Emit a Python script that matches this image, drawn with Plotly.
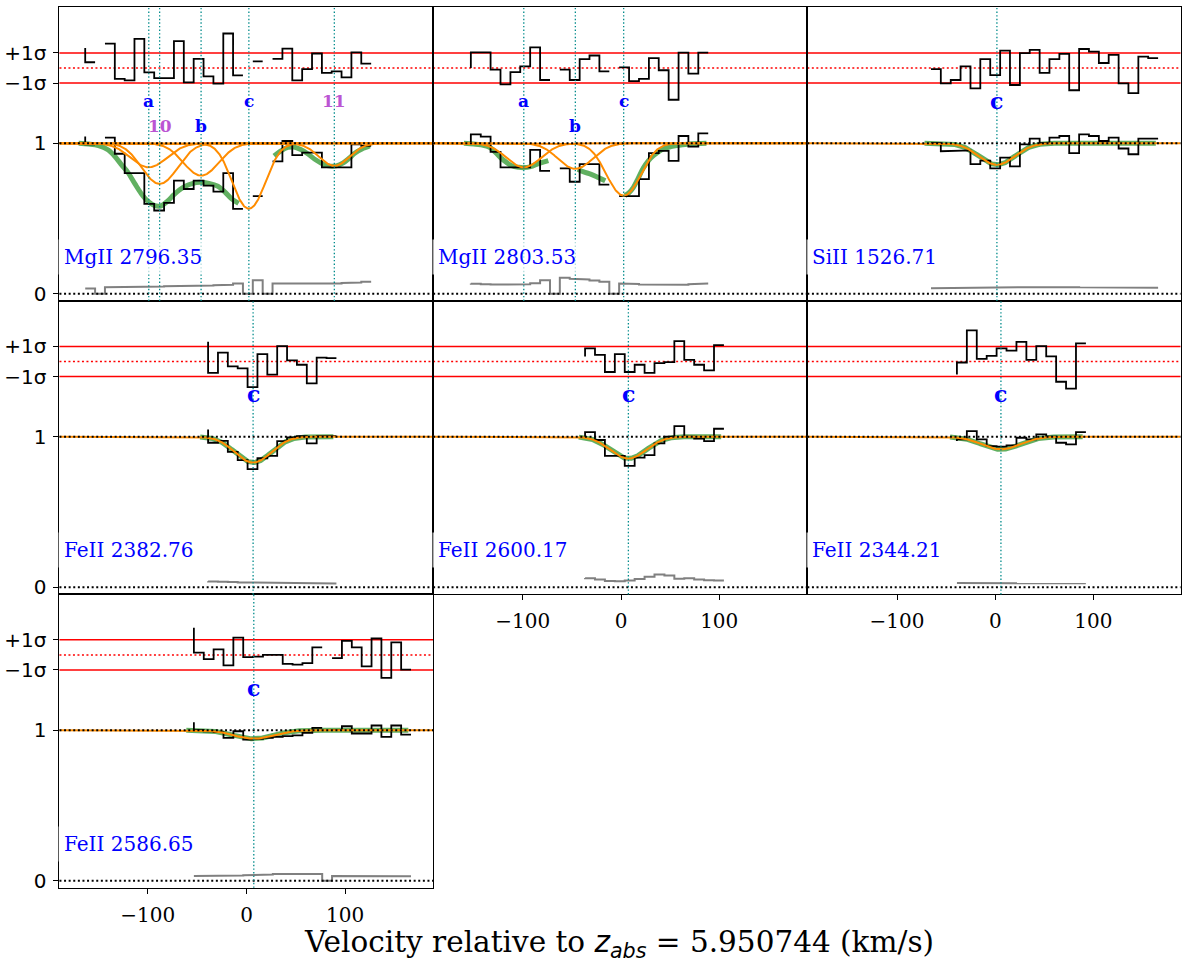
import numpy as np
import plotly.graph_objects as go

# ---------------------------------------------------------------- data
# MgII 2796.35
mg2796_vel = [-163.4, -153.4, -143.4, -133.4, -123.4, -113.5, -103.5, -93.5, -83.5, -73.5,
              -63.5, -53.5, -43.5, -33.5, -23.5, -13.6, -3.6, 6.4, 16.4, 26.4,
              36.4, 46.4, 56.4, 66.4, 76.4, 86.3, 96.3, 106.3, 116.3, 126.3]
mg2796_flux = [1.044, 0.993, None, 1.037, 0.93, 0.802, 0.802, 0.597, 0.553, 0.604,
               0.751, 0.696, 0.751, 0.718, 0.678, 0.802, 0.564, None, 0.648, None,
               0.879, 1.015, 0.921, 0.938, 0.938, 0.839, 0.839, 0.839, 0.993, 0.982]
mg2796_resid = [1.33, 0.38, None, 1.62, -0.73, -0.82, 1.93, -0.29, -0.67, -0.67,
                1.78, -0.96, 0.6, -0.56, -1.04, 2.29, -0.49, None, 0.44, None,
                0.6, 1.29, -0.82, -0.07, 0.96, -0.33, -0.22, -0.62, 1.04, 0.29]
mg2796_err = [0.035, 0.035, 0.0, 0.044, 0.045, 0.046, 0.047, 0.048, 0.049, 0.05,
              0.051, 0.052, 0.053, 0.055, 0.057, 0.06, 0.068, 0.0, 0.09, 0.0,
              0.068, 0.066, 0.064, 0.063, 0.064, 0.066, 0.068, 0.071, 0.075, 0.079]
mg2796_comp_label = ["a", "10", "b", "c", "11"]
mg2796_comp_vel = [-99.0, -88.0, -46.0, 2.4, 89.0]
mg2796_comp_b = [25.0, 24.0, 24.0, 21.0, 21.0]
mg2796_comp_fmin = [0.84, 0.73, 0.785, 0.565, 0.85]
mg2796_model_vel = [-170, -160, -150, -140, -133, -127, -120, -113, -106, -100, -93, -87, -80,
                    -74, -68, -62, -55, -47, -38, -29, -22, -15, -8, None,
                    28, 35, 42, 48, 55, 62, 70, 78, 85, 91, 98, 104, 110, 117, 125]
mg2796_model_flux = [1.0, 0.995, 0.985, 0.955, 0.91, 0.86, 0.805, 0.73, 0.66, 0.615, 0.585, 0.583, 0.615,
                     0.655, 0.69, 0.715, 0.732, 0.74, 0.733, 0.714, 0.677, 0.63, 0.60, None,
                     0.915, 0.95, 0.972, 0.975, 0.958, 0.93, 0.89, 0.86, 0.848, 0.85, 0.87, 0.90, 0.935, 0.962, 0.982]

# MgII 2803.53
mg2803_vel = [-152.9, -142.8, -132.8, -122.7, -112.6, -102.6, -92.5, -82.4, -72.3, -62.3,
              -52.2, -42.1, -32.1, -22.0, -11.9, -1.9, 8.2, 18.3, 28.4, 38.4,
              48.5, 58.6, 68.6, 78.7, 88.8]
mg2803_flux = [1.0, 1.059, 1.044, 0.943, 0.839, 0.839, 0.839, 0.956, 0.817, None,
               0.833, 0.744, 0.861, 0.861, 0.725, None, 0.648, 0.648, 0.762, 0.934,
               0.949, 0.883, 1.048, 0.978, 1.066]
mg2803_resid = [0.0, 1.04, 1.04, -0.11, -1.09, -0.28, 0.11, 1.37, -0.80, None,
                -0.11, -0.80, 0.59, 0.83, -0.22, None, 0.04, -0.87, -0.72, 0.65,
                -0.15, -2.11, 1.02, -0.37, 1.02]
mg2803_err = [0.068, 0.066, 0.063, 0.061, 0.06, 0.06, 0.063, 0.07, 0.09, 0.0,
              0.106, 0.1, 0.095, 0.088, 0.08, 0.0, 0.068, 0.065, 0.062, 0.06,
              0.058, 0.058, 0.06, 0.064, 0.068]
mg2803_comp_label = ["a", "b", "c"]
mg2803_comp_vel = [-99.0, -46.5, 2.7]
mg2803_comp_b = [24.0, 24.0, 22.5]
mg2803_comp_fmin = [0.84, 0.83, 0.652]
mg2803_model_vel = [-160, -150, -143, -133, -122, -111, -104, -99, -92, -84, -74, None,
                    -44, -38, -31, -24, -16, None,
                    4, 8, 12.5, 17, 22.7, 28, 33, 43, 57, 70, 87]
mg2803_model_flux = [1.0, 0.995, 0.99, 0.97, 0.90, 0.85, 0.84, 0.838, 0.845, 0.865, 0.885, None,
                     0.828, 0.81, 0.795, 0.775, 0.75, None,
                     0.652, 0.67, 0.705, 0.76, 0.835, 0.885, 0.918, 0.962, 0.985, 0.995, 1.0]

# SiII 1526.71
si1526_vel = [-65.4, -55.4, -45.3, -35.3, -25.2, -15.2, -5.1, 5.0, 15.0, 25.1, 35.1, 45.2,
              55.2, 65.3, 75.3, 85.4, 95.4, 105.5, 115.5, 125.6, 135.6, 145.7, 155.7, 165.8]
si1526_flux = [1.0, 1.0, 0.947, 0.952, 0.952, 0.861, 0.885, 0.833, 0.905, 0.846, 0.993, 1.031,
               1.0, 1.037, 1.048, 0.934, 1.059, 1.048, 1.015, 1.037, 0.965, 0.927, 1.031, 1.031]
si1526_resid = [-0.07, -0.07, -1.02, -0.80, 0.11, -1.35, 0.59, -0.48, 1.15, -1.13, 0.98, 1.2,
                -0.33, 0.59, 0.93, -1.48, 1.26, 1.09, 0.33, 0.87, -1.02, -1.67, 0.76, 0.65]
si1526_err = [0.036, 0.037, 0.038, 0.04, 0.041, 0.042, 0.043, 0.044, 0.044, 0.043, 0.043, 0.044,
              0.045, 0.045, 0.044, 0.044, 0.043, 0.043, 0.042, 0.042, 0.041, 0.041, 0.04, 0.04]
si1526_comp_label = ["c"]
si1526_comp_vel = [1.7]
si1526_comp_b = [25.0]
si1526_comp_fmin = [0.857]
si1526_model_span = [-72.0, 163.5]

# FeII 2382.76
fe2382_vel = [-38.9, -28.9, -18.9, -8.9, 1.1, 11.1, 21.1, 31.1, 41.1, 51.1, 61.1, 71.1, 81.1, 91.1]
fe2382_flux = [1.048, 0.96, 0.972, 0.899, 0.844, 0.784, 0.857, 0.872, 0.971, 0.995, 1.004, 0.956, 1.004, 1.004]
fe2382_resid = [1.30, -0.76, 0.59, -0.33, -0.46, -1.70, 0.48, -0.87, 1.02, 0.07, -0.22, -1.46, 0.26, 0.22]
fe2382_err = [0.04, 0.038, 0.036, 0.034, 0.032, 0.031, 0.03, 0.029, 0.028, 0.027, 0.027, 0.026, 0.025, 0.025]
fe2382_comp_label = ["c"]
fe2382_comp_vel = [6.7]
fe2382_comp_b = [25.0]
fe2382_comp_fmin = [0.828]
fe2382_model_span = [-47.0, 88.0]

# FeII 2600.17
fe2600_vel = [-36.6, -26.5, -16.4, -6.3, 3.8, 13.9, 24.0, 34.1, 44.2, 54.3, 64.4, 74.5, 84.6, 94.7, 104.8]
fe2600_flux = [1.0, 1.031, 0.978, 0.872, 0.872, 0.806, 0.861, 0.877, 0.956, 1.0, 1.07, 1.0, 0.987, 0.971, 1.053]
fe2600_resid = [0.33, 0.87, 0.43, -0.70, 0.48, -0.70, -0.22, -0.76, -0.11, -0.04, 1.35, 0.11, -0.22, -0.59, 1.09]
fe2600_err = [0.062, 0.06, 0.052, 0.042, 0.04, 0.045, 0.055, 0.07, 0.084, 0.078, 0.057, 0.06, 0.052, 0.046, 0.044]
fe2600_comp_label = ["c"]
fe2600_comp_vel = [7.5]
fe2600_comp_b = [25.0]
fe2600_comp_fmin = [0.855]
fe2600_model_span = [-43.0, 102.0]

# FeII 2344.21
fe2344_vel = [-39.0, -28.9, -18.8, -8.7, 1.4, 11.5, 21.6, 31.7, 41.8, 51.9, 62.0, 72.1, 82.2, 92.3]
fe2344_flux = [0.971, 0.982, 1.037, 0.982, 0.938, 0.934, 0.943, 0.993, 0.982, 1.015, 1.0, 0.96, 0.949, 1.031]
fe2344_resid = [-0.87, -0.07, 2.07, 0.17, 0.37, 0.87, 0.72, 1.30, 0.11, 1.02, 0.33, -1.35, -1.80, 1.20]
fe2344_err = [0.028, 0.028, 0.027, 0.027, 0.027, 0.028, 0.028, 0.028, 0.027, 0.027, 0.027, 0.026, 0.026, 0.026]
fe2344_comp_label = ["c"]
fe2344_comp_vel = [5.8]
fe2344_comp_b = [27.0]
fe2344_comp_fmin = [0.916]
fe2344_model_span = [-46.0, 89.0]

# FeII 2586.65
fe2586_vel = [-53.3, -43.3, -33.3, -23.3, -13.3, -3.3, 6.7, 16.7, 26.7, 36.7, 46.7, 56.7,
              66.7, 76.7, 86.7, 96.7, 106.7, 116.7, 126.7, 136.7, 146.7, 156.7, 166.7]
fe2586_flux = [1.053, 1.0, 0.993, 0.987, 0.949, 0.993, 0.938, 0.943, 0.949, 0.956, 0.96, 0.965,
               0.982, 1.015, None, 1.0, 1.026, 0.978, 0.978, 1.031, 0.956, 1.031, 0.971]
fe2586_resid = [1.80, 0.15, -0.28, 0.37, -0.70, 1.15, -0.15, -0.11, 0.0, 0.0, -0.59, -0.65,
                -0.54, 0.5, None, -0.22, 0.93, 0.5, -0.76, 1.09, -1.52, 0.83, -0.98]
fe2586_err = [0.031, 0.031, 0.032, 0.033, 0.034, 0.035, 0.037, 0.039, 0.041, 0.044, 0.046, 0.046,
              0.045, 0.044, 0.0, 0.032, 0.031, 0.031, 0.03, 0.031, 0.032, 0.031, 0.03]
fe2586_comp_label = ["c"]
fe2586_comp_vel = [7.4]
fe2586_comp_b = [28.0]
fe2586_comp_fmin = [0.943]
fe2586_model_span = [-61.0, 164.0]

z_abs = "5.950744"

# ---------------------------------------------------------------- layout / style
W, H = 1182, 964
COL_PX = [(59.5, 433.5), (433.5, 808.0), (808.0, 1181.5)]
ROW_PX = [(7.5, 302.5), (302.5, 597.5), (597.5, 892.5)]
X_RANGE = [(-189.5, 189.1), (-191.3, 189.7), (-191.3, 188.6)]
Y_RANGE = (-0.0476, 1.902)
RES_ZERO, RES_SCALE = 1.5, 0.1

BLUE = "#0000ff"
PURPLE = "#bb55d3"
ORANGE = "#ff8c00"
GREEN = "rgba(0,128,0,0.62)"
TEAL = "rgb(0,139,139)"

panels = [
    dict(name="MgII 2796.35", row=0, col=0, vel=mg2796_vel, flux=mg2796_flux, resid=mg2796_resid,
         err=mg2796_err, lab=mg2796_comp_label, cv=mg2796_comp_vel, cb=mg2796_comp_b,
         cf=mg2796_comp_fmin, mv=mg2796_model_vel, mf=mg2796_model_flux,
         lab_level=[0, 1, 1, 0, 0], lab_size=17),
    dict(name="MgII 2803.53", row=0, col=1, vel=mg2803_vel, flux=mg2803_flux, resid=mg2803_resid,
         err=mg2803_err, lab=mg2803_comp_label, cv=mg2803_comp_vel, cb=mg2803_comp_b,
         cf=mg2803_comp_fmin, mv=mg2803_model_vel, mf=mg2803_model_flux,
         lab_level=[0, 1, 0], lab_size=17),
    dict(name="SiII 1526.71", row=0, col=2, vel=si1526_vel, flux=si1526_flux, resid=si1526_resid,
         err=si1526_err, lab=si1526_comp_label, cv=si1526_comp_vel, cb=si1526_comp_b,
         cf=si1526_comp_fmin, span=si1526_model_span, lab_level=[0], lab_size=22),
    dict(name="FeII 2382.76", row=1, col=0, vel=fe2382_vel, flux=fe2382_flux, resid=fe2382_resid,
         err=fe2382_err, lab=fe2382_comp_label, cv=fe2382_comp_vel, cb=fe2382_comp_b,
         cf=fe2382_comp_fmin, span=fe2382_model_span, lab_level=[0], lab_size=22),
    dict(name="FeII 2600.17", row=1, col=1, vel=fe2600_vel, flux=fe2600_flux, resid=fe2600_resid,
         err=fe2600_err, lab=fe2600_comp_label, cv=fe2600_comp_vel, cb=fe2600_comp_b,
         cf=fe2600_comp_fmin, span=fe2600_model_span, lab_level=[0], lab_size=22),
    dict(name="FeII 2344.21", row=1, col=2, vel=fe2344_vel, flux=fe2344_flux, resid=fe2344_resid,
         err=fe2344_err, lab=fe2344_comp_label, cv=fe2344_comp_vel, cb=fe2344_comp_b,
         cf=fe2344_comp_fmin, span=fe2344_model_span, lab_level=[0], lab_size=22),
    dict(name="FeII 2586.65", row=2, col=0, vel=fe2586_vel, flux=fe2586_flux, resid=fe2586_resid,
         err=fe2586_err, lab=fe2586_comp_label, cv=fe2586_comp_vel, cb=fe2586_comp_b,
         cf=fe2586_comp_fmin, span=fe2586_model_span, lab_level=[0], lab_size=22),
]
occupied = {(p["row"], p["col"]) for p in panels}
LAB_Y = [1.282, 1.115]


def steps_pre(x, y):
    """matplotlib drawstyle='steps-pre' path, NaN (None) breaks the line."""
    xs, ys = [], []
    for i in range(len(x)):
        pts = [(x[0], y[0])] if i == 0 else [(x[i - 1], y[i]), (x[i], y[i])]
        for px, py in pts:
            if py is None:
                if xs and xs[-1] is not None:
                    xs.append(None)
                    ys.append(None)
            else:
                xs.append(px)
                ys.append(py)
    return xs, ys


def component(v, v0, b, fmin):
    tau0 = -np.log(fmin)
    return np.exp(-tau0 * np.exp(-((v - v0) / b) ** 2))


fig = go.Figure()
shapes, annotations = [], []
layout = {}

for k, p in enumerate(panels):
    n = k + 1
    xa = "x" if n == 1 else f"x{n}"
    ya = "y" if n == 1 else f"y{n}"
    xr = X_RANGE[p["col"]]
    c0, c1 = COL_PX[p["col"]]
    r0, r1 = ROW_PX[p["row"]]
    bottom = (p["row"] + 1, p["col"]) not in occupied
    left = p["col"] == 0

    def add(x, y, **kw):
        fig.add_trace(go.Scatter(x=x, y=y, xaxis=xa, yaxis=ya, mode="lines",
                                 hoverinfo="skip", showlegend=False, **kw))

    # total model (green)
    if "mv" in p:
        add(p["mv"], p["mf"], line=dict(color=GREEN, width=5, shape="spline", smoothing=0.9),
            connectgaps=False)
    else:
        vg = np.linspace(p["span"][0], p["span"][1], 400)
        tot = np.ones_like(vg)
        for v0, b, fm in zip(p["cv"], p["cb"], p["cf"]):
            tot = tot * component(vg, v0, b, fm)
        add(vg, tot, line=dict(color=GREEN, width=5))

    # error spectrum
    ex, ey = steps_pre(p["vel"], p["err"])
    add(ex, ey, line=dict(color="#808080", width=2))
    # flux
    fx, fy = steps_pre(p["vel"], p["flux"])
    add(fx, fy, line=dict(color="black", width=1.8))
    # residuals
    rv = [None if r is None else RES_ZERO + RES_SCALE * r for r in p["resid"]]
    rx, ry = steps_pre(p["vel"], rv)
    add(rx, ry, line=dict(color="black", width=1.8))
    # individual components (orange)
    vfull = np.linspace(xr[0], xr[1], 900)
    for v0, b, fm in zip(p["cv"], p["cb"], p["cf"]):
        add(vfull, component(vfull, v0, b, fm), line=dict(color=ORANGE, width=2))

    # reference lines
    for yv, dash in [(1.6, "solid"), (1.4, "solid"), (1.5, "2px,2.5px")]:
        shapes.append(dict(type="line", xref=f"{xa} domain", yref=ya, x0=0, x1=1, y0=yv, y1=yv,
                           line=dict(color="red", width=1.5, dash=dash), layer="below"))
    for yv in (1.0, 0.0):
        shapes.append(dict(type="line", xref=f"{xa} domain", yref=ya, x0=0, x1=1, y0=yv, y1=yv,
                           line=dict(color="black", width=2, dash="2px,2.6px"), layer="above"))
    for v0 in p["cv"]:
        shapes.append(dict(type="line", xref=xa, yref=f"{ya} domain", x0=v0, x1=v0, y0=0, y1=1,
                           line=dict(color=TEAL, width=1.3, dash="1.4px,2.2px"), layer="above"))

    # component labels
    for lab, v0, lev in zip(p["lab"], p["cv"], p["lab_level"]):
        annotations.append(dict(xref=xa, yref=ya, x=v0, y=LAB_Y[lev], text=lab, showarrow=False,
                                xanchor="center", yanchor="middle",
                                font=dict(family="DejaVu Serif", size=p["lab_size"], weight="bold",
                                          color=PURPLE if lab.isdigit() else BLUE)))
    # transition name
    annotations.append(dict(xref=f"{xa} domain", yref=ya, x=-0.004, y=0.247, text=p["name"],
                            showarrow=False, xanchor="left", yanchor="middle",
                            bgcolor="rgba(255,255,255,0.7)", borderpad=5, borderwidth=1,
                            bordercolor="rgba(255,255,255,0)",
                            font=dict(family="DejaVu Serif", size=20, color=BLUE)))

    axis_common = dict(showline=True, mirror=True, linecolor="black", linewidth=1,
                       showgrid=False, zeroline=False, tickcolor="black", ticklen=5, tickwidth=1)
    layout["xaxis" if n == 1 else f"xaxis{n}"] = dict(
        domain=[c0 / W, c1 / W], range=list(xr), anchor=ya,
        tickvals=[-100, 0, 100], ticktext=["\u2212100", "0", "100"],
        ticks="outside" if bottom else "", showticklabels=bottom, ticklabelstandoff=4,
        tickfont=dict(family="DejaVu Serif", size=20, color="black"), **axis_common)
    layout["yaxis" if n == 1 else f"yaxis{n}"] = dict(
        domain=[1 - r1 / H, 1 - r0 / H], range=list(Y_RANGE), anchor=xa,
        tickvals=[0, 1, 1.4, 1.6], ticktext=["0", "1", "\u22121\u03c3", "+1\u03c3"],
        ticks="outside" if left else "", showticklabels=left, ticklabelstandoff=3,
        tickfont=dict(family="DejaVu Sans", size=20, color="black"), **axis_common)

annotations.append(dict(
    xref="paper", yref="paper", x=620 / W, y=1 - 948.5 / H, xanchor="center", yanchor="middle",
    showarrow=False,
    text=("Velocity relative to <span style='font-family:DejaVu Sans'><i>z</i><sub><i>abs</i></sub>"
          "</span> = " + z_abs + " (km/s)"),
    font=dict(family="DejaVu Serif", size=29.5, color="black")))

fig.update_layout(width=W, height=H, margin=dict(l=0, r=0, t=0, b=0),
                  paper_bgcolor="white", plot_bgcolor="white", showlegend=False,
                  font=dict(family="DejaVu Serif", color="black"),
                  shapes=shapes, annotations=annotations, **layout)

fig.write_html("out.html", config={"displayModeBar": False},
               post_script="document.body.style.margin='0px';document.body.style.overflow='hidden';")
